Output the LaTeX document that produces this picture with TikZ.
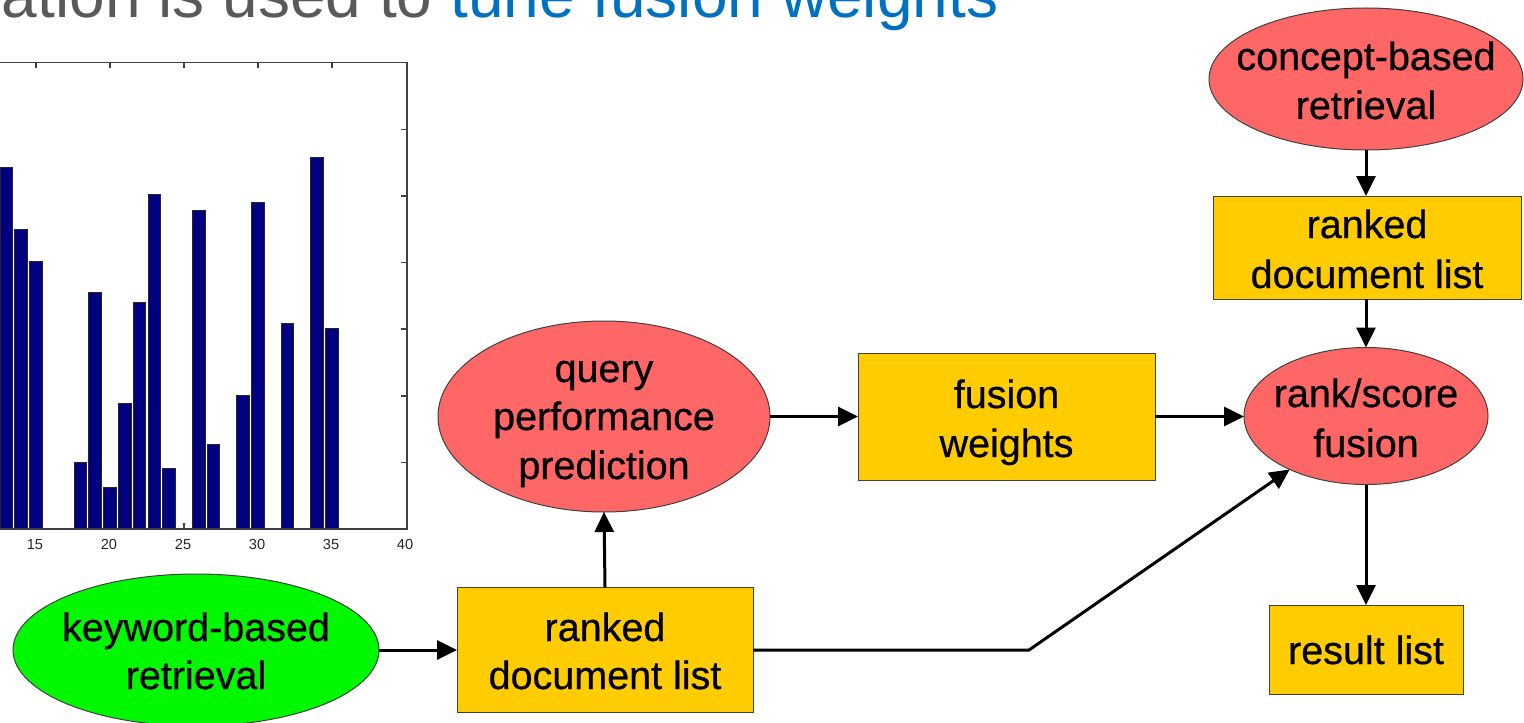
\documentclass[tikz,border=0pt]{standalone}
\usepackage{fontspec}
\setmainfont{Liberation Sans}
\newfontfamily\labelfont[FakeBold=0.6]{Liberation Sans}
\usetikzlibrary{shapes.geometric,arrows.meta}

\definecolor{titlegray}{HTML}{595959}
\definecolor{titleblue}{HTML}{0070C0}
\definecolor{salmon}{HTML}{FF6666}
\definecolor{gold}{HTML}{FFCC00}
\definecolor{limegreen}{HTML}{00F800}
\definecolor{navybar}{HTML}{000080}
\definecolor{edgegray}{HTML}{404040}

\begin{document}
\begin{tikzpicture}[x=0.5pt,y=-0.5pt,
  every node/.style={inner sep=0pt, outer sep=0pt},
  oval/.style={ellipse, draw=edgegray, line width=0.5pt},
  redoval/.style={oval, fill=salmon},
  greenoval/.style={oval, fill=limegreen},
  box/.style={rectangle, draw=edgegray, line width=0.5pt, fill=gold},
  txt/.style={anchor=base, font=\labelfont\fontsize{19.75}{24}\selectfont, text=black},
  flow/.style={line width=1.5pt, -{Triangle[length=10pt,width=9.5pt]}},
  bar/.style={fill=navybar, draw=black!85, line width=0.5pt},
  ticklbl/.style={font=\fontsize{7.3}{8}\selectfont, text=black!85},
  frame/.style={draw=edgegray, line width=0.75pt}
]
\clip (0,0) rectangle (1524,722);

% heading, partly cut by the top edge
\node[anchor=base west, font=\fontsize{32}{38}\selectfont] (title) at (2,17.5)
  {\textcolor{titlegray}{ation is used to }\textcolor{titleblue}{tune fusion weights}};

% bar chart: x value v sits at 406-(40-v)*14.8, one y unit is 66.6
\foreach \v in {10,15,...,35} {
  \draw[frame] ({406-(40-\v)*14.8},62.7) -- ({406-(40-\v)*14.8},68);
  \draw[frame] ({406-(40-\v)*14.8},529) -- ({406-(40-\v)*14.8},523);
}
\foreach \k in {1,...,6}
  \draw[frame] (407,{529-66.6*\k}) -- (401,{529-66.6*\k});
\foreach \v/\t in {13/167.3, 14/229, 15/261.3, 18/462.7, 19/292.7, 20/487,
                   21/403.7, 22/302.7, 23/194.7, 24/468, 26/210.7, 27/444.7,
                   29/395.7, 30/202.7, 32/323, 34/157.7, 35/328.3}
  \draw[bar] ({406-(40-\v)*14.8-6.3},529) rectangle ({406-(40-\v)*14.8+6.3},\t);
\draw[frame] (-200,62.7) rectangle (407,529);
\foreach \v in {15,20,...,40}
  \node[ticklbl] (xl\v) at ({405-(40-\v)*14.8},544.5) {\v};

% flow chart shapes
\node[greenoval, minimum width=183pt, minimum height=76pt] (kw) at (196,650) {};
\node[box, minimum width=148pt, minimum height=62.5pt] (rdl) at (605,650) {};
\node[redoval, minimum width=166pt, minimum height=95.5pt] (qpp) at (604,416.5) {};
\node[box, minimum width=148.5pt, minimum height=63.5pt] (fw) at (1006.5,416.5) {};
\node[redoval, minimum width=122pt, minimum height=68.5pt] (rsf) at (1366,416) {};
\node[redoval, minimum width=157pt, minimum height=71pt] (cbr) at (1366,79) {};
\node[box, minimum width=154pt, minimum height=51.5pt] (rdl2) at (1367,247.5) {};
\node[box, minimum width=97pt, minimum height=44.5pt] (res) at (1366,649.5) {};

% labels, one node per line, placed on their baselines
\node[txt] (kwa) at (196,641) {keyword-based};
\node[txt] (kwb) at (196,689) {retrieval};
\node[txt] (rdla) at (605,641) {ranked};
\node[txt] (rdlb) at (605,689) {document list};
\node[txt] (qppa) at (604,382) {query};
\node[txt] (qppb) at (604,430) {performance};
\node[txt] (qppc) at (604,479) {prediction};
\node[txt] (fwa) at (1006.5,408) {fusion};
\node[txt] (fwb) at (1006.5,457) {weights};
\node[txt] (rsfa) at (1366,407) {rank/score};
\node[txt] (rsfb) at (1366,457) {fusion};
\node[txt] (cbra) at (1366,70) {concept-based};
\node[txt] (cbrb) at (1366,119) {retrieval};
\node[txt] (rdl2a) at (1367,238) {ranked};
\node[txt] (rdl2b) at (1367,288) {document list};
\node[txt] (resa) at (1366,664) {result list};

% connectors
\coordinate (bend) at (1029,650);
\draw[flow] (kw.east) -- (kw.east -| rdl.west);
\draw[flow] (rdl.north) -- (qpp.south);
\draw[flow] (qpp.east) -- (qpp.east -| fw.west);
\draw[flow] (fw.east) -- (fw.east -| rsf.west);
\draw[flow] (cbr.south) -- (cbr.south |- rdl2.north);
\draw[flow] (rsf.north |- rdl2.south) -- (rsf.north);
\draw[flow] (rsf.south) -- (res.north);
\draw[flow] (rdl.east) -- (bend) -- (rsf.215);
\end{tikzpicture}
\end{document}
